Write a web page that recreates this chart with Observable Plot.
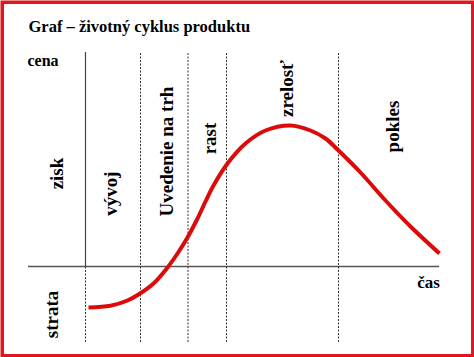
<!DOCTYPE html>
<html>
<head>
<meta charset="utf-8">
<script src="https://cdn.jsdelivr.net/npm/d3@7"></script>
<script src="https://cdn.jsdelivr.net/npm/@observablehq/plot@0.6"></script>
<style>
  html, body { margin: 0; padding: 0; background: white; }
  #chart svg { display: block; }
  #chart svg text { font-family: "Liberation Serif", "Times New Roman", serif !important; }
</style>
</head>
<body>
<div id="chart"></div>
<script>
// --- data (time units, price/profit units; axis origin at 0,0) ---
const title = "Graf – životný cyklus produktu";
const yAxisLabel = "cena";
const xAxisLabel = "čas";
const profitLabel = "zisk";
const lossLabel = "strata";

const phaseBoundaries = [0, 11, 20.5, 28.2, 50.6];
const phaseNames = ["vývoj", "Uvedenie na trh", "rast", "zrelosť", "pokles"];
const phaseLabelTime = [5, 16.3, 24.8, 40.3, 61.4];
const phaseLabelLevel = [36.5, 57.5, 64, 89, 70];

const axisTimeStart = -11.4;
const axisTimeEnd = 70.8;
const axisTop = 107;
const axisBottom = -38;

const curveTime  = [0.6, 5, 8.4, 10.6, 13.6, 16.4, 18.4, 20.4, 22.4, 24, 25.6, 28.4, 32, 36, 41, 45, 48, 50.6, 55, 60, 65, 70.8];
const curveValue = [-20.5, -19.6, -17, -14, -8.5, -0.5, 6.5, 14.5, 24, 32.5, 40.5, 51.5, 61.5, 68, 70.5, 68, 64, 58, 47, 33, 20, 6.5];

// --- build tables ---
const curve = curveTime.map((t, i) => ({t, v: curveValue[i]}));
const phases = phaseNames.map((name, i) => ({name, t: phaseLabelTime[i], v: phaseLabelLevel[i]}));
const dashed = phaseBoundaries.slice(1).map(t => ({t}));

const font = "Liberation Serif";
const txt = {fontFamily: font, fontWeight: "bold", fill: "black"};

const chart = Plot.plot({
  width: 474,
  height: 357,
  margin: 0,
  x: {domain: [-17, 77.8], axis: null},
  y: {domain: [-45.5, 133], axis: null},
  style: {background: "white", fontFamily: font},
  marks: [
    // horizontal axis
    Plot.ruleY([0], {x1: axisTimeStart, x2: axisTimeEnd, stroke: "#555", strokeWidth: 1.3}),
    // vertical axis (solid above, dashed below)
    Plot.ruleX([phaseBoundaries[0]], {y1: 0, y2: axisTop, stroke: "#444", strokeWidth: 1.2}),
    Plot.ruleX([phaseBoundaries[0]], {y1: axisBottom, y2: 0, stroke: "#333", strokeWidth: 1, strokeDasharray: "2,1.5"}),
    // phase boundaries
    Plot.ruleX(dashed, {x: "t", y1: axisBottom, y2: axisTop, stroke: "#333", strokeWidth: 1, strokeDasharray: "2,1.5"}),
    // life cycle curve
    Plot.line(curve, {x: "t", y: "v", curve: "catmull-rom", stroke: "#dd0a0a", strokeWidth: 4, strokeLinecap: "butt"}),
    // phase labels
    Plot.text(phases, {x: "t", y: "v", text: "name", rotate: -90, fontSize: 19, ...txt}),
    Plot.text([profitLabel], {x: -5.7, y: 46.5, text: d => d, rotate: -90, fontSize: 19, ...txt}),
    Plot.text([lossLabel], {x: -6.8, y: -24, text: d => d, rotate: -90, fontSize: 19, ...txt}),
    // title and axis labels
    Plot.text([title], {x: axisTimeStart, y: 120, text: d => d, textAnchor: "start", fontSize: 16.5, ...txt}),
    Plot.text([yAxisLabel], {x: -11.6, y: 103, text: d => d, textAnchor: "start", fontSize: 16, ...txt}),
    Plot.text([xAxisLabel], {x: 68.6, y: -7.8, text: d => d, fontSize: 17, ...txt}),
    // red border
    Plot.frame({stroke: "#e2161c", strokeWidth: 3.5, inset: 1.75})
  ]
});
document.getElementById("chart").appendChild(chart);
</script>
</body>
</html>
